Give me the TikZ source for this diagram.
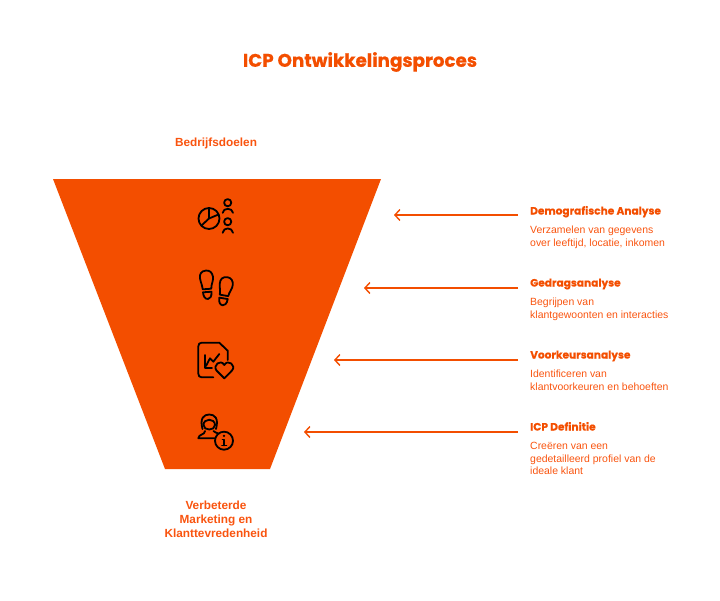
\documentclass[tikz,border=0pt]{standalone}
\usepackage{fontspec}
\setmainfont{Liberation Sans}
\newfontfamily\titlefont[BoldFeatures={FakeBold=0.5}]{Poppins}
\usetikzlibrary{arrows.meta,positioning}
\definecolor{funnelorange}{HTML}{F34E00}
\definecolor{textorange}{HTML}{F9540F}
\tikzset{
    headtext/.style={anchor=west, inner sep=0pt, text height=8pt, text depth=3pt, text=funnelorange, font=\titlefont\bfseries\fontsize{10.6}{12}\selectfont},
    desctext/.style={anchor=north west, inner sep=0pt, text=textorange, align=left, font=\fontsize{10.45}{12.4}\selectfont},
    goaltext/.style={inner sep=0pt, text=textorange, align=center, font=\bfseries\fontsize{11.8}{14}\selectfont},
    pointer/.style={draw=funnelorange, line width=1.4pt, -{Straight Barb[length=5pt,width=11pt]}},
    icon/.style={draw=black, line width=1.8pt, line cap=round, line join=round}
}
\newcommand{\footprint}[3]{%
    \begin{scope}[shift={(#1,#2)}, rotate=#3]
        \draw[icon] (0,-14.5) .. controls (-5,-14.5) and (-7,-11) .. (-6.5,-7) .. controls (-6,-2) and (-4.5,0) .. (-4.5,4) -- (4,4) .. controls (4,0) and (7,-4) .. (6.5,-8) .. controls (6,-12) and (4,-14.5) .. (0,-14.5) -- cycle;
        \draw[icon] (-4.5,7) -- (4,7) .. controls (4,12) and (2,14) .. (0,14) .. controls (-3,14) and (-4.5,11) .. (-4.5,7) -- cycle;
    \end{scope}}
\begin{document}
\begin{tikzpicture}[x=1pt, y=-1pt, >=stealth]
    \useasboundingbox (0,0) rectangle (720,600);

    \node (title) at (360,62) [inner sep=0pt, text=funnelorange, font=\titlefont\bfseries\fontsize{18.3}{22}\selectfont] {ICP Ontwikkelingsproces};
    \node (top) at (216,143.5) [goaltext] {Bedrijfsdoelen};
    \node (bottom) at (216,519) [goaltext] {Verbeterde\\Marketing en\\Klanttevredenheid};

    % funnel
    \fill[funnelorange] (53,179) -- (381,179) -- (270,469) -- (165,469) -- cycle;

    % pie and people
    \draw[icon] (209,218.5) circle (10.5);
    \draw[icon] (209,208) -- (209,218.5) -- (218.5,214.5) (209,218.5) -- (201.5,225.5);
    \draw[icon] (227.7,202.7) circle (3.6) (227.7,221.7) circle (3.6);
    \draw[icon] (222.7,212.8) .. controls (223,207.5) and (232.5,207.5) .. (233,212.8);
    \draw[icon] (222.7,232.8) .. controls (223,227) and (232.5,227) .. (233,232.8);

    % footprints
    \footprint{207}{285}{4}
    \footprint{225}{291.5}{-10}

    % document with heart
    \draw[icon] (213.3,377.3) -- (201.7,377.3) .. controls (199.5,377.3) and (198.3,376) .. (198.3,373.5) -- (198.3,346.5) .. controls (198.3,344) and (199.5,342.7) .. (201.7,342.7) -- (219.3,342.7) -- (227.7,350.7) -- (227.7,360);
    \draw[icon] (205,355) -- (205,368.3) -- (212,368.3);
    \draw[icon] (206,366) -- (210,358.3) -- (213.3,361.7) -- (219.3,354);
    \draw[icon] (224.3,378.3) -- (216.5,370.5) .. controls (212.5,365.5) and (220.5,358.5) .. (224.3,365) .. controls (228,358.5) and (236.5,365.5) .. (232,370.5) -- cycle;

    % person with info
    \draw[icon] (203.5,425) .. controls (203.5,418) and (215,418) .. (215,425) .. controls (215,431) and (203.5,431) .. (203.5,425) -- cycle;
    \draw[icon] (202.5,429) .. controls (199.5,418) and (204,414.5) .. (209.3,414.5) .. controls (214.5,414.5) and (219,418) .. (216,429);
    \draw[icon] (205,431) .. controls (205,435) and (198.5,434) .. (198.3,438.3) -- (214.5,438.3);
    \draw[icon] (213.5,431) .. controls (214.5,432.5) and (216.5,432.5) .. (218.3,433.5);
    \draw[icon] (224,440.7) circle (9);
    \draw[icon] (222.5,439.5) -- (224.3,439.5) -- (224.3,445.5) (222,445.5) -- (226.5,445.5);
    \fill (224,435.8) circle (1.3);

    % labels on the right
    \node (demo) at (530,212) [headtext] {Demografische Analyse};
    \node (demotext) [desctext, below=8.5pt of demo.south west, anchor=north west] {Verzamelen van gegevens\\over leeftijd, locatie, inkomen};
    \node (gedrag) at (530,284) [headtext] {Gedragsanalyse};
    \node (gedragtext) [desctext, below=8.5pt of gedrag.south west, anchor=north west] {Begrijpen van\\klantgewoonten en interacties};
    \node (voorkeur) at (530,356) [headtext] {Voorkeursanalyse};
    \node (voorkeurtext) [desctext, below=8.5pt of voorkeur.south west, anchor=north west] {Identificeren van\\klantvoorkeuren en behoeften};
    \node (icp) at (530,428) [headtext] {ICP Definitie};
    \node (icptext) [desctext, below=8.5pt of icp.south west, anchor=north west] {Creëren van een\\gedetailleerd profiel van de\\ideale klant};

    % pointers
    \coordinate (demostart) at (518,215);
    \coordinate (demoend) at (394,215);
    \coordinate (gedragstart) at (518,288);
    \coordinate (gedragend) at (364,288);
    \coordinate (voorkeurstart) at (518,360);
    \coordinate (voorkeurend) at (334,360);
    \coordinate (icpstart) at (518,432);
    \coordinate (icpend) at (304,432);
    \draw[pointer] (demostart) -- (demoend);
    \draw[pointer] (gedragstart) -- (gedragend);
    \draw[pointer] (voorkeurstart) -- (voorkeurend);
    \draw[pointer] (icpstart) -- (icpend);
\end{tikzpicture}
\end{document}
